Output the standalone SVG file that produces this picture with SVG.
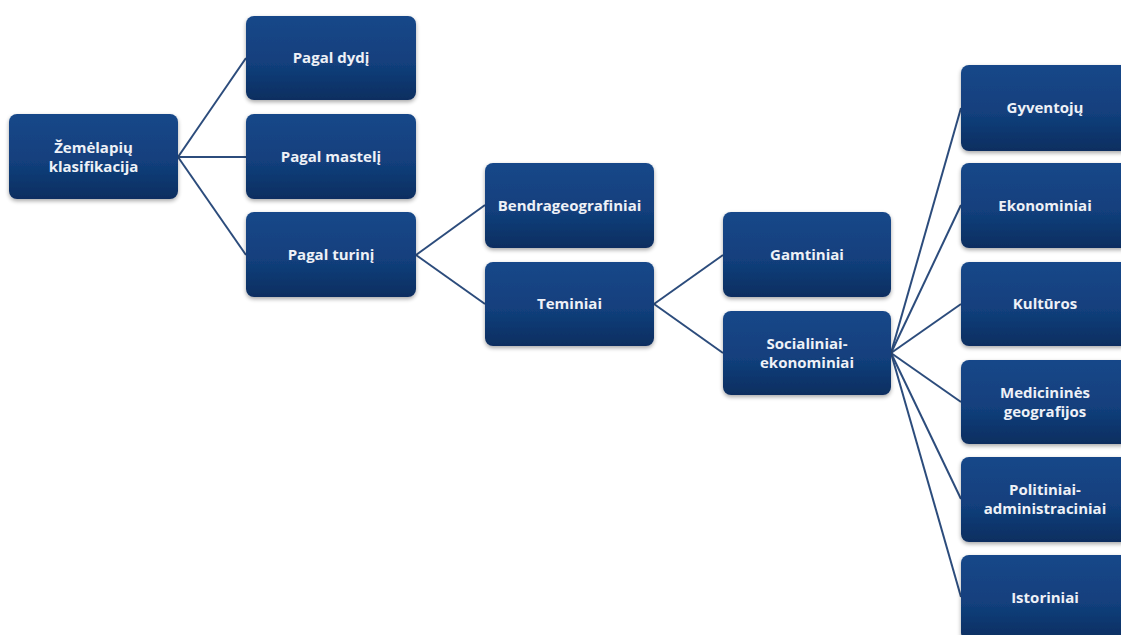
<svg xmlns="http://www.w3.org/2000/svg" width="1121" height="635" viewBox="0 0 1121 635">
<defs>
<linearGradient id="g" x1="0" y1="0" x2="0" y2="1">
<stop offset="0" stop-color="#174789"/>
<stop offset="0.55" stop-color="#12407d"/>
<stop offset="1" stop-color="#0c2e60"/>
</linearGradient>
<filter id="sh" x="-10%" y="-10%" width="125%" height="130%">
<feGaussianBlur in="SourceAlpha" stdDeviation="2"/>
<feOffset dx="0" dy="2" result="b"/>
<feComponentTransfer><feFuncA type="linear" slope="0.35"/></feComponentTransfer>
<feMerge><feMergeNode/><feMergeNode in="SourceGraphic"/></feMerge>
</filter>
</defs>
<style>
.n rect{fill:url(#g);filter:url(#sh)}
.n text{font-family:"Open Sans","Noto Sans","Liberation Sans",sans-serif;font-weight:700;font-size:15px;fill:#eef1f7;text-anchor:middle}
#conn line{stroke:#2c4c7c;stroke-width:2}
</style>
<rect width="1121" height="635" fill="#ffffff"/>
<g id="conn">
<line x1="178" y1="157" x2="246" y2="58"/>
<line x1="178" y1="157" x2="246" y2="157"/>
<line x1="178" y1="157" x2="246" y2="255"/>
<line x1="416" y1="255" x2="485" y2="205"/>
<line x1="416" y1="255" x2="485" y2="304"/>
<line x1="654" y1="304" x2="723" y2="255"/>
<line x1="654" y1="304" x2="723" y2="353"/>
<line x1="891" y1="353" x2="961" y2="108"/>
<line x1="891" y1="353" x2="961" y2="205"/>
<line x1="891" y1="353" x2="961" y2="304"/>
<line x1="891" y1="353" x2="961" y2="402"/>
<line x1="891" y1="353" x2="961" y2="499"/>
<line x1="891" y1="353" x2="961" y2="597"/>
</g>
<g id="root" class="n"><rect x="9" y="114" width="169" height="85" rx="8"/><text x="93.5" y="153">Žemėlapių</text><text x="93.5" y="172">klasifikacija</text></g>
<g id="dydi" class="n"><rect x="246" y="16" width="170" height="84" rx="8"/><text x="331" y="63">Pagal dydį</text></g>
<g id="masteli" class="n"><rect x="246" y="114" width="170" height="85" rx="8"/><text x="331" y="162">Pagal mastelį</text></g>
<g id="turini" class="n"><rect x="246" y="212" width="170" height="85" rx="8"/><text x="331" y="260">Pagal turinį</text></g>
<g id="bendra" class="n"><rect x="485" y="163" width="169" height="85" rx="8"/><text x="569.5" y="211">Bendrageografiniai</text></g>
<g id="teminiai" class="n"><rect x="485" y="262" width="169" height="84" rx="8"/><text x="569.5" y="309">Teminiai</text></g>
<g id="gamtiniai" class="n"><rect x="723" y="212" width="168" height="85" rx="8"/><text x="807" y="260">Gamtiniai</text></g>
<g id="socialiniai" class="n"><rect x="723" y="311" width="168" height="84" rx="8"/><text x="807" y="349">Socialiniai-</text><text x="807" y="368">ekonominiai</text></g>
<g id="gyventoju" class="n"><rect x="961" y="65" width="168" height="86" rx="8"/><text x="1045" y="113">Gyventojų</text></g>
<g id="ekonominiai" class="n"><rect x="961" y="163" width="168" height="85" rx="8"/><text x="1045" y="211">Ekonominiai</text></g>
<g id="kulturos" class="n"><rect x="961" y="262" width="168" height="84" rx="8"/><text x="1045" y="309">Kultūros</text></g>
<g id="medicinines" class="n"><rect x="961" y="360" width="168" height="84" rx="8"/><text x="1045" y="398">Medicininės</text><text x="1045" y="417">geografijos</text></g>
<g id="politiniai" class="n"><rect x="961" y="457" width="168" height="85" rx="8"/><text x="1045" y="495">Politiniai-</text><text x="1045" y="514">administraciniai</text></g>
<g id="istoriniai" class="n"><rect x="961" y="555" width="168" height="86" rx="8"/><text x="1045" y="603">Istoriniai</text></g>
</svg>
